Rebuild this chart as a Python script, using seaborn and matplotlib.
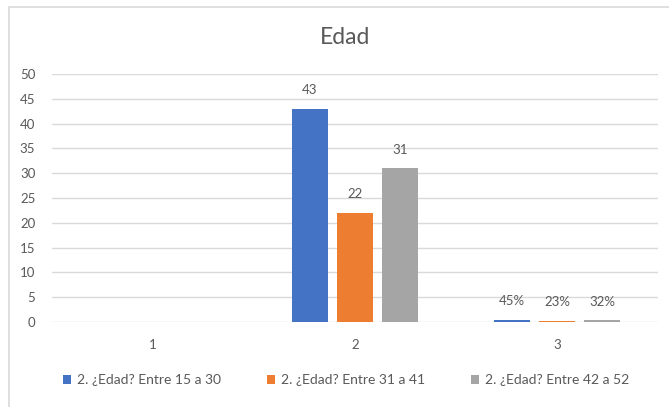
import matplotlib.pyplot as plt
import matplotlib.patches as mpatches
import seaborn as sns
import numpy as np
import pandas as pd

categories = ["1", "2", "3"]
series = ["2. ¿Edad? Entre 15 a 30", "2. ¿Edad? Entre 31 a 41", "2. ¿Edad? Entre 42 a 52"]
edad_15_30 = [np.nan, 43, 0.45]
edad_31_41 = [np.nan, 22, 0.23]
edad_42_52 = [np.nan, 31, 0.32]
colors = ["#4472C4", "#ED7D31", "#A5A5A5"]

rows = []
for name, vals in zip(series, [edad_15_30, edad_31_41, edad_42_52]):
    for cat, v in zip(categories, vals):
        rows.append({"Pregunta": cat, "Valor": v, "Serie": name})
df = pd.DataFrame(rows).dropna()

sns.set_style("white")
plt.rcParams['font.family'] = ['Lato', 'DejaVu Sans']
text_color = "#595959"

fig = plt.figure(figsize=(6.69, 4.07), dpi=100)
# chart area border (like the Excel chart frame)
fig.patches.append(mpatches.Rectangle((9 / 669, -0.1), 1.0, 1 - 7 / 407 + 0.1,
                                      transform=fig.transFigure, fill=False,
                                      edgecolor="#D9D9D9", linewidth=1.2))

ax = fig.add_axes([52 / 669, 1 - 322 / 407, 606 / 669, 248 / 407])
sns.barplot(data=df, x="Pregunta", y="Valor", hue="Serie", order=categories,
            hue_order=series, palette=colors, width=0.668, gap=0.22,
            saturation=1, linewidth=0, ax=ax, legend=True)

for container in ax.containers:
    labels = [f"{v:.0f}" if v >= 1 else f"{v:.0%}" for v in container.datavalues]
    ax.bar_label(container, labels=labels, padding=9, fontsize=9.5, color=text_color)

ax.set_xlim(-0.5, 2.5)
ax.set_ylim(0, 50)
ax.set_yticks(range(0, 51, 5))
ax.yaxis.grid(True, color="#D9D9D9", linewidth=1)
ax.set_axisbelow(True)
for s in ax.spines.values():
    s.set_visible(False)
ax.tick_params(axis="both", length=0, labelsize=9.5, colors=text_color)
ax.tick_params(axis="y", pad=12)
ax.tick_params(axis="x", pad=12)
ax.set_xlabel("")
ax.set_ylabel("")

handles, labels = ax.get_legend_handles_labels()
ax.get_legend().remove()
fig.legend(handles, labels, loc="center", bbox_to_anchor=(346 / 669, 1 - 380 / 407),
           ncol=3, frameon=False, fontsize=10, labelcolor=text_color,
           handlelength=0.6, handleheight=0.6, handletextpad=0.4, columnspacing=3.3)

fig.text(345 / 669, 1 - 37 / 407, "Edad", ha="center", va="center",
         fontsize=16.5, color=text_color)

fig.savefig("out.png", dpi=100)
